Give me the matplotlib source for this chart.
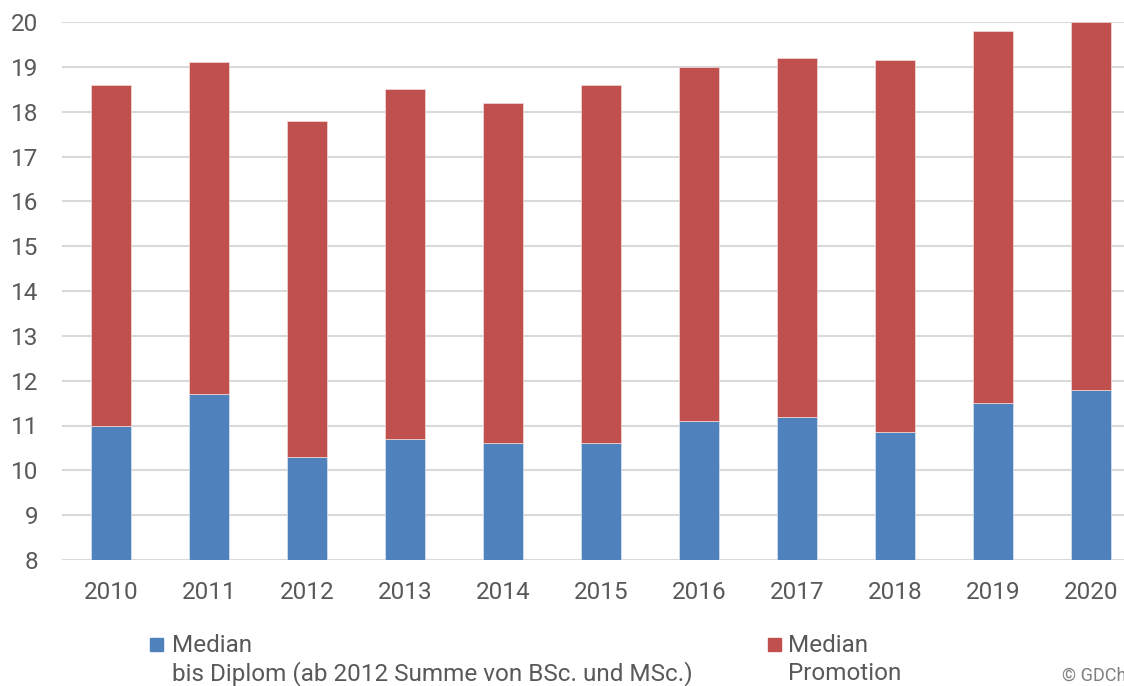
import matplotlib.pyplot as plt
from matplotlib.patches import Rectangle

years = ["2010", "2011", "2012", "2013", "2014", "2015", "2016", "2017", "2018", "2019", "2020"]
# median semesters until Diplom / BSc+MSc
median_diplom = [11.0, 11.7, 10.3, 10.7, 10.6, 10.6, 11.1, 11.2, 10.85, 11.5, 11.8]
# median semesters of Promotion (stacked on top)
median_promotion = [7.6, 7.4, 7.5, 7.8, 7.6, 8.0, 7.9, 8.0, 8.3, 8.3, 8.2]

BLUE = "#4F81BD"
RED = "#C0504D"
TEXT = "#595959"
FS = 17.5

plt.rcParams["font.family"] = ["Roboto", "DejaVu Sans"]

fig = plt.figure(figsize=(11.24, 6.86), dpi=100)
ax = fig.add_axes([62 / 1124, 126 / 686, 1078 / 1124, 538 / 686])

x = range(len(years))
ax.bar(x, median_diplom, width=0.4, color=BLUE, edgecolor="#dce6f2", linewidth=0.5, zorder=3)
ax.bar(x, median_promotion, bottom=median_diplom, width=0.4, color=RED,
       edgecolor="#f2dcdb", linewidth=0.5, zorder=3)

ax.set_xlim(-0.5, len(years) - 0.5)
ax.set_ylim(8, 20)
ax.set_yticks(range(8, 21))
ax.set_xticks(list(x))
ax.set_xticklabels(years)

ax.grid(axis="y", color="#d9d9d9", linewidth=1.5, zorder=0)
ax.set_axisbelow(True)
for s in ax.spines.values():
    s.set_visible(False)
ax.tick_params(axis="both", length=0, labelsize=FS, labelcolor=TEXT)
ax.tick_params(axis="y", pad=17)
ax.tick_params(axis="x", pad=15)

# legend drawn by hand, square aligned with first line
fig.patches.append(Rectangle((150 / 1124, 1 - 651 / 686), 13 / 1124, 13 / 686,
                             transform=fig.transFigure, color=BLUE))
fig.text(172 / 1124, 1 - 645 / 686, "Median", fontsize=FS, color=TEXT, va="center", ha="left")
fig.text(172 / 1124, 1 - 674 / 686, "bis Diplom (ab 2012 Summe von BSc. und MSc.)",
         fontsize=FS, color=TEXT, va="center", ha="left")

fig.patches.append(Rectangle((768 / 1124, 1 - 651 / 686), 13 / 1124, 13 / 686,
                             transform=fig.transFigure, color=RED))
fig.text(788 / 1124, 1 - 645 / 686, "Median", fontsize=FS, color=TEXT, va="center", ha="left")
fig.text(788 / 1124, 1 - 674 / 686, "Promotion", fontsize=FS, color=TEXT, va="center", ha="left")

# copyright note, cut at the right edge as in the source
fig.text(1062 / 1124, 1 - 676 / 686, "© GDCh", fontsize=13, color="#7f7f7f", va="center", ha="left")

fig.savefig("out.png", dpi=100)
